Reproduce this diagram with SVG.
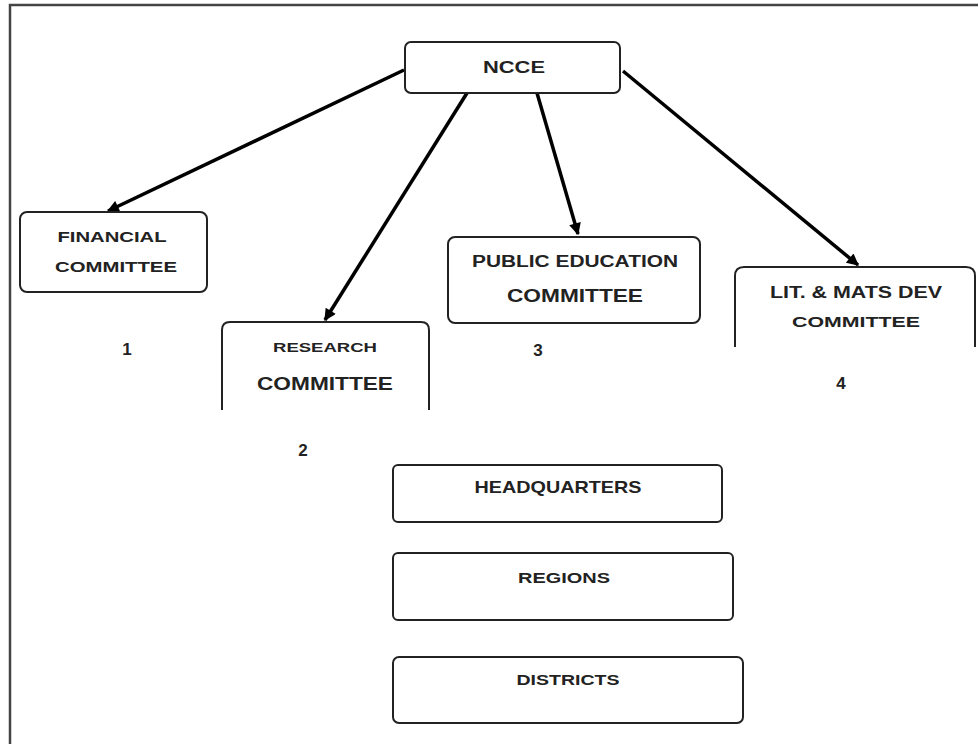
<svg xmlns="http://www.w3.org/2000/svg" width="978" height="744" viewBox="0 0 978 744">
<defs>
<style>
.box{fill:#fff;stroke:#222;stroke-width:2}
.open{fill:none;stroke:#222;stroke-width:2}
.t{font-family:"Liberation Sans",Arial,sans-serif;fill:#222;text-anchor:middle;font-weight:bold}
.n{font-family:"Liberation Sans",Arial,sans-serif;fill:#222;text-anchor:middle;font-size:17px;font-weight:bold}
.arrow{stroke:#000;stroke-width:3.5;fill:none;marker-end:url(#ah)}
</style>
<marker id="ah" viewBox="0 0 10 10" refX="9" refY="5" markerWidth="14" markerHeight="12" markerUnits="userSpaceOnUse" orient="auto">
<path d="M0,0 L10,5 L0,10 z" fill="#000"/>
</marker>
</defs>
<rect x="0" y="0" width="978" height="744" fill="#fff"/>
<rect x="10" y="5" width="1000" height="800" fill="none" stroke="#444" stroke-width="2.5"/>

<g id="connectors">
<line class="arrow" x1="404" y1="70" x2="108" y2="211"/>
<line class="arrow" x1="467" y1="93" x2="325" y2="320"/>
<line class="arrow" x1="537" y1="93" x2="578" y2="234"/>
<line class="arrow" x1="623" y1="71" x2="858" y2="265"/>
</g>

<g id="ncce">
<rect class="box" x="405" y="42" width="215" height="51" rx="6"/>
<text class="t" x="514" y="73" font-size="16" textLength="62" lengthAdjust="spacingAndGlyphs">NCCE</text>
</g>

<g id="financial">
<rect class="box" x="20" y="212" width="187" height="80" rx="7"/>
<text class="t" x="112" y="242" font-size="15" textLength="109" lengthAdjust="spacingAndGlyphs">FINANCIAL</text>
<text class="t" x="116" y="272" font-size="15" textLength="122" lengthAdjust="spacingAndGlyphs">COMMITTEE</text>
</g>
<text class="n" x="127" y="355">1</text>

<g id="research">
<path class="open" d="M222,410 L222,330 Q222,322 230,322 L421,322 Q429,322 429,330 L429,410"/>
<text class="t" x="325" y="352" font-size="13" textLength="104" lengthAdjust="spacingAndGlyphs">RESEARCH</text>
<text class="t" x="325" y="390" font-size="18" textLength="136" lengthAdjust="spacingAndGlyphs">COMMITTEE</text>
</g>
<text class="n" x="303" y="456">2</text>

<g id="public">
<rect class="box" x="448" y="237" width="252" height="86" rx="7"/>
<text class="t" x="575" y="267" font-size="16" textLength="206" lengthAdjust="spacingAndGlyphs">PUBLIC EDUCATION</text>
<text class="t" x="575" y="302" font-size="19" textLength="136" lengthAdjust="spacingAndGlyphs">COMMITTEE</text>
</g>
<text class="n" x="538" y="356">3</text>

<g id="lit">
<path class="open" d="M735,347 L735,276 Q735,267 744,267 L966,267 Q975,267 975,276 L975,347"/>
<text class="t" x="856" y="298" font-size="16" textLength="172" lengthAdjust="spacingAndGlyphs">LIT. &amp; MATS  DEV</text>
<text class="t" x="856" y="327" font-size="15" textLength="128" lengthAdjust="spacingAndGlyphs">COMMITTEE</text>
</g>
<text class="n" x="841" y="389">4</text>

<g id="headquarters">
<rect class="box" x="393" y="465" width="329" height="57" rx="5"/>
<text class="t" x="558" y="493" font-size="17" textLength="167" lengthAdjust="spacingAndGlyphs">HEADQUARTERS</text>
</g>

<g id="regions">
<rect class="box" x="393" y="553" width="340" height="67" rx="5"/>
<text class="t" x="564" y="583" font-size="15" textLength="92" lengthAdjust="spacingAndGlyphs">REGIONS</text>
</g>

<g id="districts">
<rect class="box" x="393" y="657" width="350" height="66" rx="6"/>
<text class="t" x="568" y="685" font-size="15" textLength="103" lengthAdjust="spacingAndGlyphs">DISTRICTS</text>
</g>
</svg>
